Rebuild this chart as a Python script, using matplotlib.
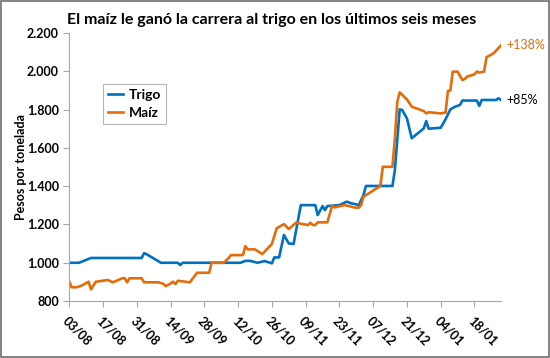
#!/usr/bin/env python3

import pandas as pd
import matplotlib
matplotlib.use('agg')
import matplotlib.pyplot as plt
from matplotlib.patches import Rectangle

# Precios (pesos por tonelada)
trigo_fechas = ['2015-08-03', '2015-08-07', '2015-08-12', '2015-09-02', '2015-09-03', '2015-09-04',
                '2015-09-10', '2015-09-17', '2015-09-18', '2015-09-19', '2015-10-13', '2015-10-15',
                '2015-10-17', '2015-10-20', '2015-10-23', '2015-10-26', '2015-10-27', '2015-10-29',
                '2015-10-31', '2015-11-02', '2015-11-04', '2015-11-07', '2015-11-13', '2015-11-14',
                '2015-11-16', '2015-11-17', '2015-11-18', '2015-11-23', '2015-11-26', '2015-11-28',
                '2015-11-30', '2015-12-01', '2015-12-03', '2015-12-04', '2015-12-15', '2015-12-16',
                '2015-12-18', '2015-12-19', '2015-12-21', '2015-12-23', '2015-12-28', '2015-12-29',
                '2015-12-30', '2016-01-04', '2016-01-06', '2016-01-08', '2016-01-10', '2016-01-12',
                '2016-01-13', '2016-01-19', '2016-01-20', '2016-01-21', '2016-01-27', '2016-01-28',
                '2016-01-29']
trigo = [1000, 1000, 1025, 1025, 1050, 1045,
         1000, 1000, 988, 1000, 1000, 1010,
         1010, 1000, 1009, 997, 1028, 1028,
         1145, 1101, 1098, 1301, 1301, 1249,
         1296, 1275, 1296, 1301, 1319, 1310,
         1305, 1300, 1354, 1401, 1401, 1484,
         1801, 1798, 1754, 1650, 1702, 1740,
         1700, 1705, 1749, 1801, 1815, 1824,
         1847, 1847, 1819, 1850, 1850, 1859,
         1850]

maiz_fechas = ['2015-08-03', '2015-08-04', '2015-08-06', '2015-08-08', '2015-08-11', '2015-08-12',
               '2015-08-14', '2015-08-19', '2015-08-21', '2015-08-25', '2015-08-26', '2015-08-27',
               '2015-08-28', '2015-09-02', '2015-09-03', '2015-09-09', '2015-09-11', '2015-09-12',
               '2015-09-14', '2015-09-15', '2015-09-16', '2015-09-17', '2015-09-22', '2015-09-25',
               '2015-09-30', '2015-10-01', '2015-10-06', '2015-10-08', '2015-10-09', '2015-10-14',
               '2015-10-15', '2015-10-16', '2015-10-19', '2015-10-22', '2015-10-26', '2015-10-28',
               '2015-10-31', '2015-11-02', '2015-11-05', '2015-11-10', '2015-11-11', '2015-11-12',
               '2015-11-13', '2015-11-14', '2015-11-18', '2015-11-20', '2015-11-21', '2015-11-25',
               '2015-11-27', '2015-11-29', '2015-12-01', '2015-12-02', '2015-12-03', '2015-12-10',
               '2015-12-11', '2015-12-15', '2015-12-16', '2015-12-17', '2015-12-18', '2015-12-21',
               '2015-12-23', '2015-12-28', '2015-12-29', '2015-12-30', '2016-01-04', '2016-01-06',
               '2016-01-07', '2016-01-08', '2016-01-09', '2016-01-11', '2016-01-13', '2016-01-14',
               '2016-01-15', '2016-01-18', '2016-01-19', '2016-01-20', '2016-01-22', '2016-01-23',
               '2016-01-26', '2016-01-29']
maiz = [901, 872, 872, 880, 901, 861,
        901, 910, 898, 919, 919, 898,
        919, 919, 898, 898, 890, 878,
        892, 901, 889, 906, 898, 948,
        948, 1000, 1000, 1023, 1040, 1040,
        1087, 1070, 1070, 1045, 1098, 1180,
        1202, 1176, 1209, 1197, 1209, 1197,
        1197, 1211, 1211, 1298, 1289, 1301,
        1296, 1289, 1287, 1301, 1345, 1401,
        1501, 1501, 1650, 1840, 1890, 1853,
        1815, 1792, 1780, 1786, 1780, 1784,
        1897, 1899, 1998, 1998, 1954, 1960,
        1972, 1984, 1998, 1993, 1998, 2073,
        2094, 2135]

x_ticks = pd.date_range('2015-08-03', periods=13, freq='14D')
x_labels = ['03/08', '17/08', '31/08', '14/09', '28/09', '12/10', '26/10',
            '09/11', '23/11', '07/12', '21/12', '04/01', '18/01']
y_ticks = [800, 1000, 1200, 1400, 1600, 1800, 2000, 2200]
y_labels = ['800', '1.000', '1.200', '1.400', '1.600', '1.800', '2.000', '2.200']

azul = '#0070C0'
naranja = '#E46C0A'
gris = '#A6A6A6'

plt.rcParams['font.family'] = ['Lato', 'DejaVu Sans']

fig = plt.figure(figsize=(5.5, 3.58), dpi=100, facecolor='w')
ax = fig.add_axes([0.126, 0.159, 0.784, 0.749])

ax.plot(pd.to_datetime(trigo_fechas), trigo, color=azul, lw=1.9, label='Trigo', solid_joinstyle='round')
ax.plot(pd.to_datetime(maiz_fechas), maiz, color=naranja, lw=1.9, label='Maíz', solid_joinstyle='round')

ax.set_xlim(pd.Timestamp('2015-08-03'), pd.Timestamp('2015-08-03') + pd.Timedelta(days=178.8))
ax.set_ylim(800, 2200)
ax.set_xticks(x_ticks)
ax.set_xticklabels(x_labels, rotation=-45, ha='left', va='top', rotation_mode='anchor',
                   fontsize=9, fontweight='bold')
ax.set_yticks(y_ticks)
ax.set_yticklabels(y_labels, fontsize=9, fontweight='bold')
ax.tick_params(axis='both', colors=gris, labelcolor='black', length=4, width=0.8)
ax.tick_params(axis='x', pad=6)
for s in ['top', 'right']:
    ax.spines[s].set_visible(False)
for s in ['left', 'bottom']:
    ax.spines[s].set_color(gris)
    ax.spines[s].set_linewidth(0.8)

ax.set_ylabel('Pesos por tonelada', fontsize=9, fontweight='bold', labelpad=0)

fig.text(0.493, 0.944, 'El maíz le ganó la carrera al trigo en los últimos seis meses',
         ha='center', va='center', fontsize=11.5, fontweight='bold')

leg = ax.legend(loc='upper left', bbox_to_anchor=(0.187, 0.765), bbox_transform=fig.transFigure,
                frameon=True, fancybox=False, handlelength=1.1, handletextpad=0.4,
                borderpad=0.35, labelspacing=0.45, borderaxespad=0,
                prop={'size': 10, 'weight': 'bold'})
leg.get_frame().set_edgecolor(gris)
leg.get_frame().set_linewidth(0.8)

ax.annotate('+138%', xy=(pd.to_datetime(maiz_fechas[-1]), maiz[-1]), xytext=(4, 0),
            textcoords='offset points', va='center', ha='left', fontsize=9, color=naranja,
            annotation_clip=False)
ax.annotate('+85%', xy=(pd.to_datetime(trigo_fechas[-1]), trigo[-1]), xytext=(4, 0),
            textcoords='offset points', va='center', ha='left', fontsize=9, color='black',
            annotation_clip=False)

fig.patches.append(Rectangle((0.002, 0.003), 0.996, 0.994, transform=fig.transFigure,
                             fill=False, edgecolor='#6E6E6E', lw=1.2))

plt.savefig('out.png', dpi=100)
